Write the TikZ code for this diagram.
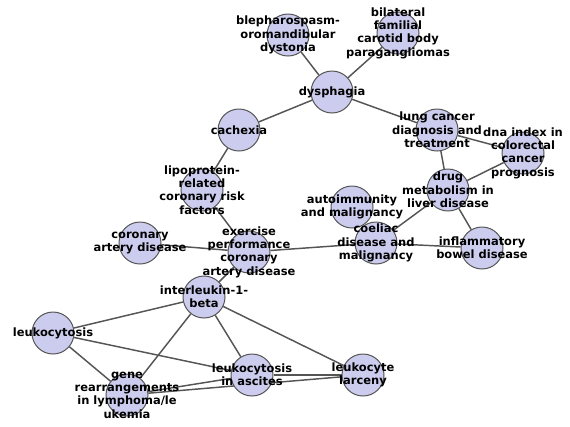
\documentclass[tikz,border=0pt]{standalone}
\usepackage{fontspec}
\setmainfont{DejaVu Sans}
\usetikzlibrary{backgrounds}
\definecolor{vfill}{RGB}{204,204,238}
\definecolor{vline}{RGB}{85,85,85}
\begin{document}
\begin{tikzpicture}[x=0.75pt,y=-0.75pt]

  % One unit = one pixel of the 570x426 frame, y running downwards.
  \useasboundingbox (0,0) rectangle (570,426);

  \tikzset{
    vertex/.style={circle,draw=vline,fill=vfill,line width=0.75pt,
                   minimum size=31.5pt,inner sep=0pt},
    vlabel/.style={align=center,font=\fontsize{8.6}{10}\selectfont\bfseries},
    edge/.style={draw=vline,line width=1.1pt}
  }

  % Circles
  \node[vertex] (blepharo)     at (288,35)  {};
  \node[vertex] (bilateral)    at (398,33)  {};
  \node[vertex] (dysphagia)    at (332,92)  {};
  \node[vertex] (cachexia)     at (239,130) {};
  \node[vertex] (lungcancer)   at (437,130) {};
  \node[vertex] (dnaindex)     at (523,153) {};
  \node[vertex] (drugmetab)    at (448,190) {};
  \node[vertex] (autoimmun)    at (352,207) {};
  \node[vertex] (coeliac)      at (376,243) {};
  \node[vertex] (ibd)          at (482,248) {};
  \node[vertex] (lipoprot)     at (202,190) {};
  \node[vertex] (coronary)     at (140,243) {};
  \node[vertex] (exercise)     at (249,252) {};
  \node[vertex] (interleukin)  at (204,297) {};
  \node[vertex] (leukocytosis) at (53,333)  {};
  \node[vertex] (generearr)    at (127,395) {};
  \node[vertex] (ascites)      at (252,375) {};
  \node[vertex] (larceny)      at (363,375) {};

  % Connectors, kept behind the circles
  \begin{pgfonlayer}{background}
    \foreach \a/\b in {blepharo/dysphagia, bilateral/dysphagia,
        dysphagia/cachexia, dysphagia/lungcancer, lungcancer/dnaindex,
        lungcancer/drugmetab, dnaindex/drugmetab, drugmetab/coeliac,
        drugmetab/ibd, coeliac/ibd, coeliac/exercise, cachexia/lipoprot,
        lipoprot/exercise, coronary/exercise, exercise/interleukin,
        interleukin/leukocytosis, interleukin/generearr,
        interleukin/ascites, interleukin/larceny, leukocytosis/ascites,
        leukocytosis/generearr, generearr/ascites, generearr/larceny,
        ascites/larceny}
      \draw[edge] (\a) -- (\b);
  \end{pgfonlayer}

  % Labels on top of everything
  \node[vlabel] at (blepharo)     {blepharospasm-\\oromandibular\\dystonia};
  \node[vlabel] at (bilateral)    {bilateral\\familial\\carotid body\\paragangliomas};
  \node[vlabel] at (dysphagia)    {dysphagia};
  \node[vlabel] at (cachexia)     {cachexia};
  \node[vlabel] at (lungcancer)   {lung cancer\\diagnosis and\\treatment};
  \node[vlabel] at (dnaindex)     {dna index in\\colorectal\\cancer\\prognosis};
  \node[vlabel] at (drugmetab)    {drug\\metabolism in\\liver disease};
  \node[vlabel] at (autoimmun)    {autoimmunity\\and malignancy};
  \node[vlabel] at (coeliac)      {coeliac\\disease and\\malignancy};
  \node[vlabel] at (ibd)          {inflammatory\\bowel disease};
  \node[vlabel] at (lipoprot)     {lipoprotein-\\related\\coronary risk\\factors};
  \node[vlabel] at (coronary)     {coronary\\artery disease};
  \node[vlabel] at (exercise)     {exercise\\performance\\coronary\\artery disease};
  \node[vlabel] at (interleukin)  {interleukin-1-\\beta};
  \node[vlabel] at (leukocytosis) {leukocytosis};
  \node[vlabel] at (generearr)    {gene\\rearrangements\\in lymphoma/le\\ukemia};
  \node[vlabel] at (ascites)      {leukocytosis\\in ascites};
  \node[vlabel] at (larceny)      {leukocyte\\larceny};

\end{tikzpicture}
\end{document}
